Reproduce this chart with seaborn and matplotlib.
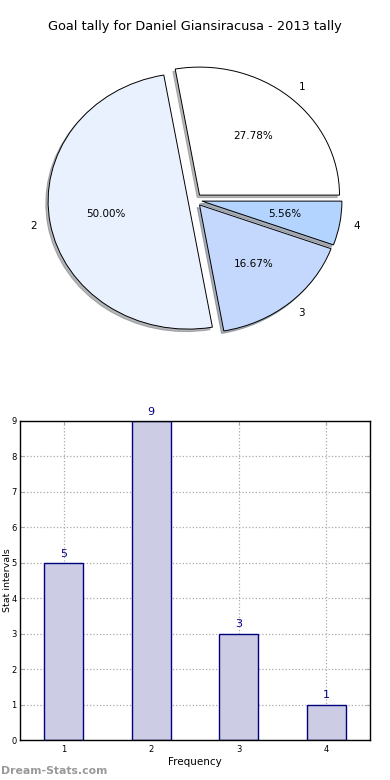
import numpy as np
import pandas as pd
import matplotlib
matplotlib.use("Agg")
import matplotlib.pyplot as plt
import seaborn as sns

# data
labels = ["1", "2", "3", "4"]
counts = [5, 9, 3, 1]
pie_colors = ["#ffffff", "#eaf1fe", "#c4d7fd", "#b2d4ff"]

title = "Goal tally for Daniel Giansiracusa - 2013 tally"

df = pd.DataFrame({"label": labels, "count": counts})

fig = plt.figure(figsize=(3.9, 7.8), dpi=100)
ax1 = fig.add_axes([20 / 390, 1 - 360 / 780, 350 / 390, 320 / 780])
ax2 = fig.add_axes([20 / 390, 1 - 740 / 780, 350 / 390, 319 / 780])

# pie
wedges, texts, autotexts = ax1.pie(
    df["count"], labels=df["label"], colors=pie_colors,
    explode=[0.05] * len(counts), autopct="%1.2f%%",
    shadow=dict(ox=-0.012, oy=-0.014, shade=0.55),
    startangle=0, wedgeprops=dict(edgecolor="black", linewidth=0.7),
    textprops=dict(fontsize=7.5))
ax1.set_aspect("auto")
ax1.set_xlim(-1.25, 1.25)
ax1.set_ylim(-1.25, 1.25)
ax1.set_title(title, fontsize=9.3, pad=7)

# bars
sns.barplot(data=df, x="label", y="count", ax=ax2, color="#ccccE4",
            saturation=1, edgecolor="#000080", linewidth=1, width=0.45)
ax2.set_xlim(-0.5, 3.5)
ax2.set_ylim(0, 9)
ax2.set_yticks(range(0, 10))
ax2.tick_params(labelsize=6, direction="in", length=3, top=True, right=True,
                color="#aaaaaa")
ax2.tick_params(axis="y", pad=2.5)
ax2.grid(True, linestyle=":", color="#aaaaaa", linewidth=0.9)
ax2.set_axisbelow(True)
for i, v in enumerate(counts):
    ax2.text(i, v + 0.12, str(v), ha="center", va="bottom", fontsize=8,
             color="#000080")
ax2.set_xlabel("Frequency", fontsize=7.5, labelpad=2)
ax2.set_ylabel("Stat intervals", fontsize=6.8)
ax2.yaxis.set_label_coords(-0.024, 0.5)
for s in ax2.spines.values():
    s.set_linewidth(1)

fig.text(0.002, 0.005, "Dream-Stats.com", fontsize=7.8, color="#999999",
         fontweight="bold", ha="left", va="bottom")

fig.savefig("out.png", dpi=100)
